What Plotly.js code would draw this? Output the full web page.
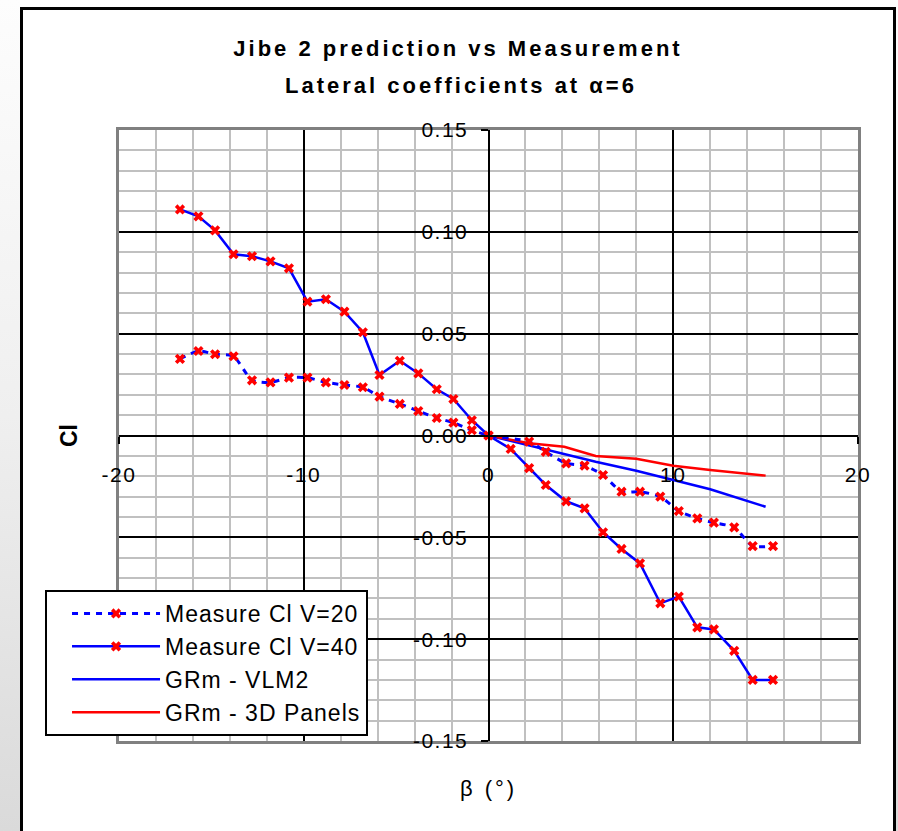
<!DOCTYPE html>
<html><head><meta charset="utf-8">
<script src="https://cdn.plot.ly/plotly-3.0.1.min.js"></script>
<style>
html,body{margin:0;padding:0;width:898px;height:831px;overflow:hidden;background:linear-gradient(to bottom,#fdfdfd 0%,#efefef 50%,#dadada 100%);}
#frame{position:absolute;left:20px;top:7px;width:870px;height:840px;border:3px solid #000;background:#fff;}
#chart{width:870px;height:840px;}
.gtitle, .annotation-text{letter-spacing:3px;}
.x2tick text, .y2tick text{letter-spacing:1.5px;}
.xtitle{letter-spacing:3px;}
.legendtext{letter-spacing:1px;}
</style></head>
<body>
<div id="frame"><div id="chart"></div></div>
<script>
const TITLE_LINE1 = 'Jibe 2 prediction vs Measurement';
const TITLE_LINE2 = 'Lateral coefficients at α=6';
const X_TITLE = 'β (°)';
const Y_TITLE = 'Cl';

const SERIES_NAMES = ['Measure Cl V=20', 'Measure Cl V=40', 'GRm - VLM2', 'GRm - 3D Panels'];

const betaV20 = [-16.7,-15.7,-14.8,-13.8,-12.8,-11.8,-10.8,-9.8,-8.8,-7.8,-6.8,-5.9,-4.8,-3.8,-2.8,-1.9,-0.9,0,
                 2.2,3.1,4.2,5.2,6.2,7.2,8.2,9.3,10.3,11.3,12.2,13.3,14.3,15.4];
const clV20 = [0.0376,0.0415,0.0399,0.0389,0.0271,0.0261,0.0284,0.0284,0.0261,0.0248,0.0237,0.0191,0.0155,0.0120,0.0086,0.0063,0.0026,0,
               -0.0030,-0.0080,-0.0137,-0.0148,-0.0194,-0.0276,-0.0276,-0.0300,-0.0371,-0.0407,-0.0428,-0.0451,-0.0543,-0.0543];

const betaV40 = [-16.7,-15.7,-14.8,-13.8,-12.8,-11.8,-10.8,-9.8,-8.8,-7.8,-6.8,-5.9,-4.8,-3.8,-2.8,-1.9,-0.9,0,
                 1.2,2.2,3.1,4.2,5.2,6.2,7.2,8.2,9.3,10.3,11.3,12.2,13.3,14.3,15.4];
const clV40 = [0.111,0.1076,0.1007,0.0890,0.0880,0.0855,0.0821,0.0657,0.0669,0.0608,0.0507,0.0297,0.0367,0.0305,0.0227,0.0179,0.0075,0,
               -0.0066,-0.0160,-0.0243,-0.0323,-0.0358,-0.0475,-0.0557,-0.0628,-0.0824,-0.0791,-0.0942,-0.0952,-0.1057,-0.1200,-0.1200];

const betaModel = [0, 2.2, 4.1, 5.8, 8.0, 10.0, 12.0, 15.0];
const clVLM2 = [0, -0.0050, -0.0091, -0.0129, -0.0173, -0.0218, -0.0264, -0.0350];
const cl3DPanels = [0, -0.0038, -0.0055, -0.0101, -0.0114, -0.0148, -0.0169, -0.0197];

const X_TICKS = [-20, -10, 0, 10, 20];
const X_TICK_LABELS = ['-20', '-10', '0', '10', '20'];
const Y_TICKS = [-0.15, -0.10, -0.05, 0, 0.05, 0.10, 0.15];
const Y_TICK_LABELS = ['-0.15', '-0.10', '-0.05', '0.00', '0.05', '0.10', '0.15'];
const X_MAJOR_GRID = [-10, 10];
const Y_MAJOR_GRID = [-0.10, -0.05, 0.05, 0.10];

const FONT = '"Liberation Sans", Arial, sans-serif';
const BLUE = '#0000ff', RED = '#ff0000';

// model curves on the framed (grid) axes, measurements on the zero-crossing axes; both share identical ranges
const traces = [
  {x: betaV20, y: clV20, name: SERIES_NAMES[0], type: 'scatter', mode: 'lines+markers', xaxis: 'x2', yaxis: 'y2',
   line: {color: BLUE, width: 3, dash: '6px,6px', shape: 'spline', smoothing: 0.6},
   marker: {symbol: 'x', size: 9, color: RED}},
  {x: betaV40, y: clV40, name: SERIES_NAMES[1], type: 'scatter', mode: 'lines+markers', xaxis: 'x2', yaxis: 'y2',
   line: {color: BLUE, width: 2.5},
   marker: {symbol: 'x', size: 9, color: RED}},
  {x: betaModel, y: clVLM2, name: SERIES_NAMES[2], type: 'scatter', mode: 'lines', xaxis: 'x', yaxis: 'y',
   line: {color: BLUE, width: 2.5}},
  {x: betaModel, y: cl3DPanels, name: SERIES_NAMES[3], type: 'scatter', mode: 'lines', xaxis: 'x', yaxis: 'y',
   line: {color: RED, width: 2.5}}
];

const layout = {
  width: 870, height: 840,
  margin: {l: 96, r: 35, t: 120, b: 109, pad: 0},
  paper_bgcolor: '#ffffff', plot_bgcolor: '#ffffff',
  font: {family: FONT, color: '#000', size: 20},
  showlegend: true,
  title: {text: TITLE_LINE1, x: 0.5, xref: 'container', xanchor: 'center',
          y: 1 - 38/840, yref: 'container', yanchor: 'middle',
          font: {family: FONT, size: 22, weight: 'bold', color: '#000'}},
  annotations: [{text: TITLE_LINE2, xref: 'paper', yref: 'paper', x: 0.4628, y: 1 + (731-75-611)/611,
                 xanchor: 'center', yanchor: 'middle', showarrow: false,
                 font: {family: FONT, size: 22, weight: 'bold', color: '#000'}}],
  xaxis: {range: [-20, 20], tickmode: 'array', tickvals: X_MAJOR_GRID, showticklabels: false, ticks: '',
          showgrid: true, gridcolor: '#000', gridwidth: 2,
          minor: {tickmode: 'linear', tick0: 0, dtick: 2, showgrid: true, gridcolor: '#c0c0c0', gridwidth: 2, ticks: ''},
          zeroline: true, zerolinecolor: '#000', zerolinewidth: 2,
          showline: true, mirror: true, linecolor: '#808080', linewidth: 3,
          title: {text: X_TITLE, font: {size: 22}, standoff: 38}, fixedrange: true},
  yaxis: {range: [-0.15, 0.15], tickmode: 'array', tickvals: Y_MAJOR_GRID, showticklabels: false, ticks: '',
          showgrid: true, gridcolor: '#000', gridwidth: 2,
          minor: {tickmode: 'linear', tick0: 0, dtick: 0.01, showgrid: true, gridcolor: '#c0c0c0', gridwidth: 2, ticks: ''},
          zeroline: true, zerolinecolor: '#000', zerolinewidth: 2,
          showline: true, mirror: true, linecolor: '#808080', linewidth: 3,
          title: {text: Y_TITLE, font: {size: 23, weight: 'bold'}, standoff: 32}, fixedrange: true},
  xaxis2: {overlaying: 'x', anchor: 'free', position: 0.5, range: [-20, 20],
           tickmode: 'array', tickvals: X_TICKS, ticktext: X_TICK_LABELS,
           ticks: 'outside', ticklen: 7, tickwidth: 2, tickcolor: '#000', ticklabelstandoff: 13,
           tickfont: {size: 21}, showline: true, linecolor: '#000', linewidth: 2,
           showgrid: false, zeroline: false, fixedrange: true},
  yaxis2: {overlaying: 'y', anchor: 'free', position: 0.5, range: [-0.15, 0.15],
           tickmode: 'array', tickvals: Y_TICKS, ticktext: Y_TICK_LABELS,
           ticks: 'outside', ticklen: 7, tickwidth: 2, tickcolor: '#000', ticklabelstandoff: 8,
           tickfont: {size: 21}, showline: true, linecolor: '#000', linewidth: 2,
           showgrid: false, zeroline: false, fixedrange: true},
  legend: {x: -0.1001, y: 0.2471, xanchor: 'left', yanchor: 'top', xref: 'paper', yref: 'paper',
           bgcolor: '#ffffff', bordercolor: '#000', borderwidth: 2, indentation: 20,
           font: {family: FONT, size: 23, color: '#000'}, itemwidth: 88, tracegroupgap: 0}
};

Plotly.newPlot('chart', traces, layout, {displayModeBar: false, staticPlot: true});
</script>
</body></html>
